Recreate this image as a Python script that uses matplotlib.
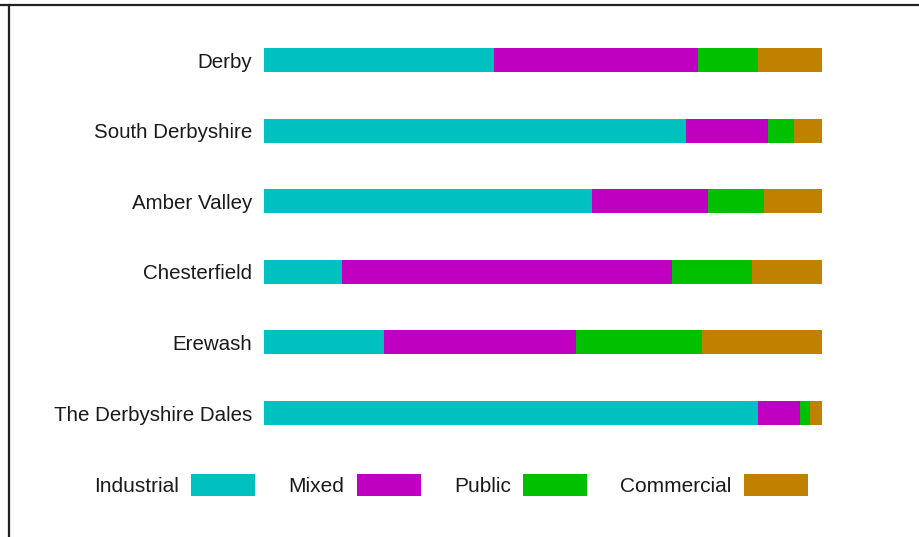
import matplotlib
matplotlib.use("Agg")
import matplotlib.pyplot as plt
from matplotlib.lines import Line2D
import numpy as np

plt.rcParams['font.family'] = ['Liberation Sans', 'DejaVu Sans']

regions = ["Derby", "South Derbyshire", "Amber Valley", "Chesterfield",
           "Erewash", "The Derbyshire Dales"]
categories = ["Industrial", "Mixed", "Public", "Commercial"]
industrial = [41.2, 75.6, 58.8, 14.0, 21.5, 88.5]
mixed = [36.6, 14.7, 20.8, 59.1, 34.4, 7.5]
public = [10.8, 4.7, 10.0, 14.3, 22.6, 1.8]
commercial = [11.4, 5.0, 10.4, 12.6, 21.5, 2.2]
colors = ["#00C0C0", "#C000C0", "#00C000", "#C08000"]

W, H = 919, 537
fig = plt.figure(figsize=(W / 100, H / 100), dpi=100)
left, right = 264, 822
top_c, bot_c = 24.7, 448.3
ax = fig.add_axes([left / W, 1 - bot_c / H, (right - left) / W, (bot_c - top_c) / H])

series = [industrial, mixed, public, commercial]
y = np.arange(len(regions))
base = np.zeros(len(regions))
for name, vals, c in zip(categories, series, colors):
    vals = np.array(vals)
    ax.barh(y, vals, left=base, height=0.34, color=c, label=name, linewidth=0)
    base += vals

fs = 15.0
ax.set_xlim(0, 100)
ax.set_ylim(len(regions) - 0.5, -0.5)
ax.set_yticks(y)
ax.set_yticklabels(regions, fontsize=14.8, color="#1a1a1a")
ax.tick_params(axis='y', length=0, pad=8.6)
ax.set_xticks([])
for s in ax.spines.values():
    s.set_visible(False)

fig.legend(loc='center', bbox_to_anchor=(451 / W, 1 - 485 / H), ncol=4,
           frameon=False, markerfirst=False, fontsize=fs,
           handlelength=3.07, handleheight=1.27, handletextpad=0.58,
           columnspacing=1.6, labelcolor="#1a1a1a")

fig.add_artist(Line2D([0, 1], [1 - 5 / H, 1 - 5 / H], transform=fig.transFigure,
                      color="#222222", linewidth=1.6))
fig.add_artist(Line2D([9 / W, 9 / W], [0, 1 - 5 / H], transform=fig.transFigure,
                      color="#222222", linewidth=1.6))

fig.savefig("out.png", dpi=100)
